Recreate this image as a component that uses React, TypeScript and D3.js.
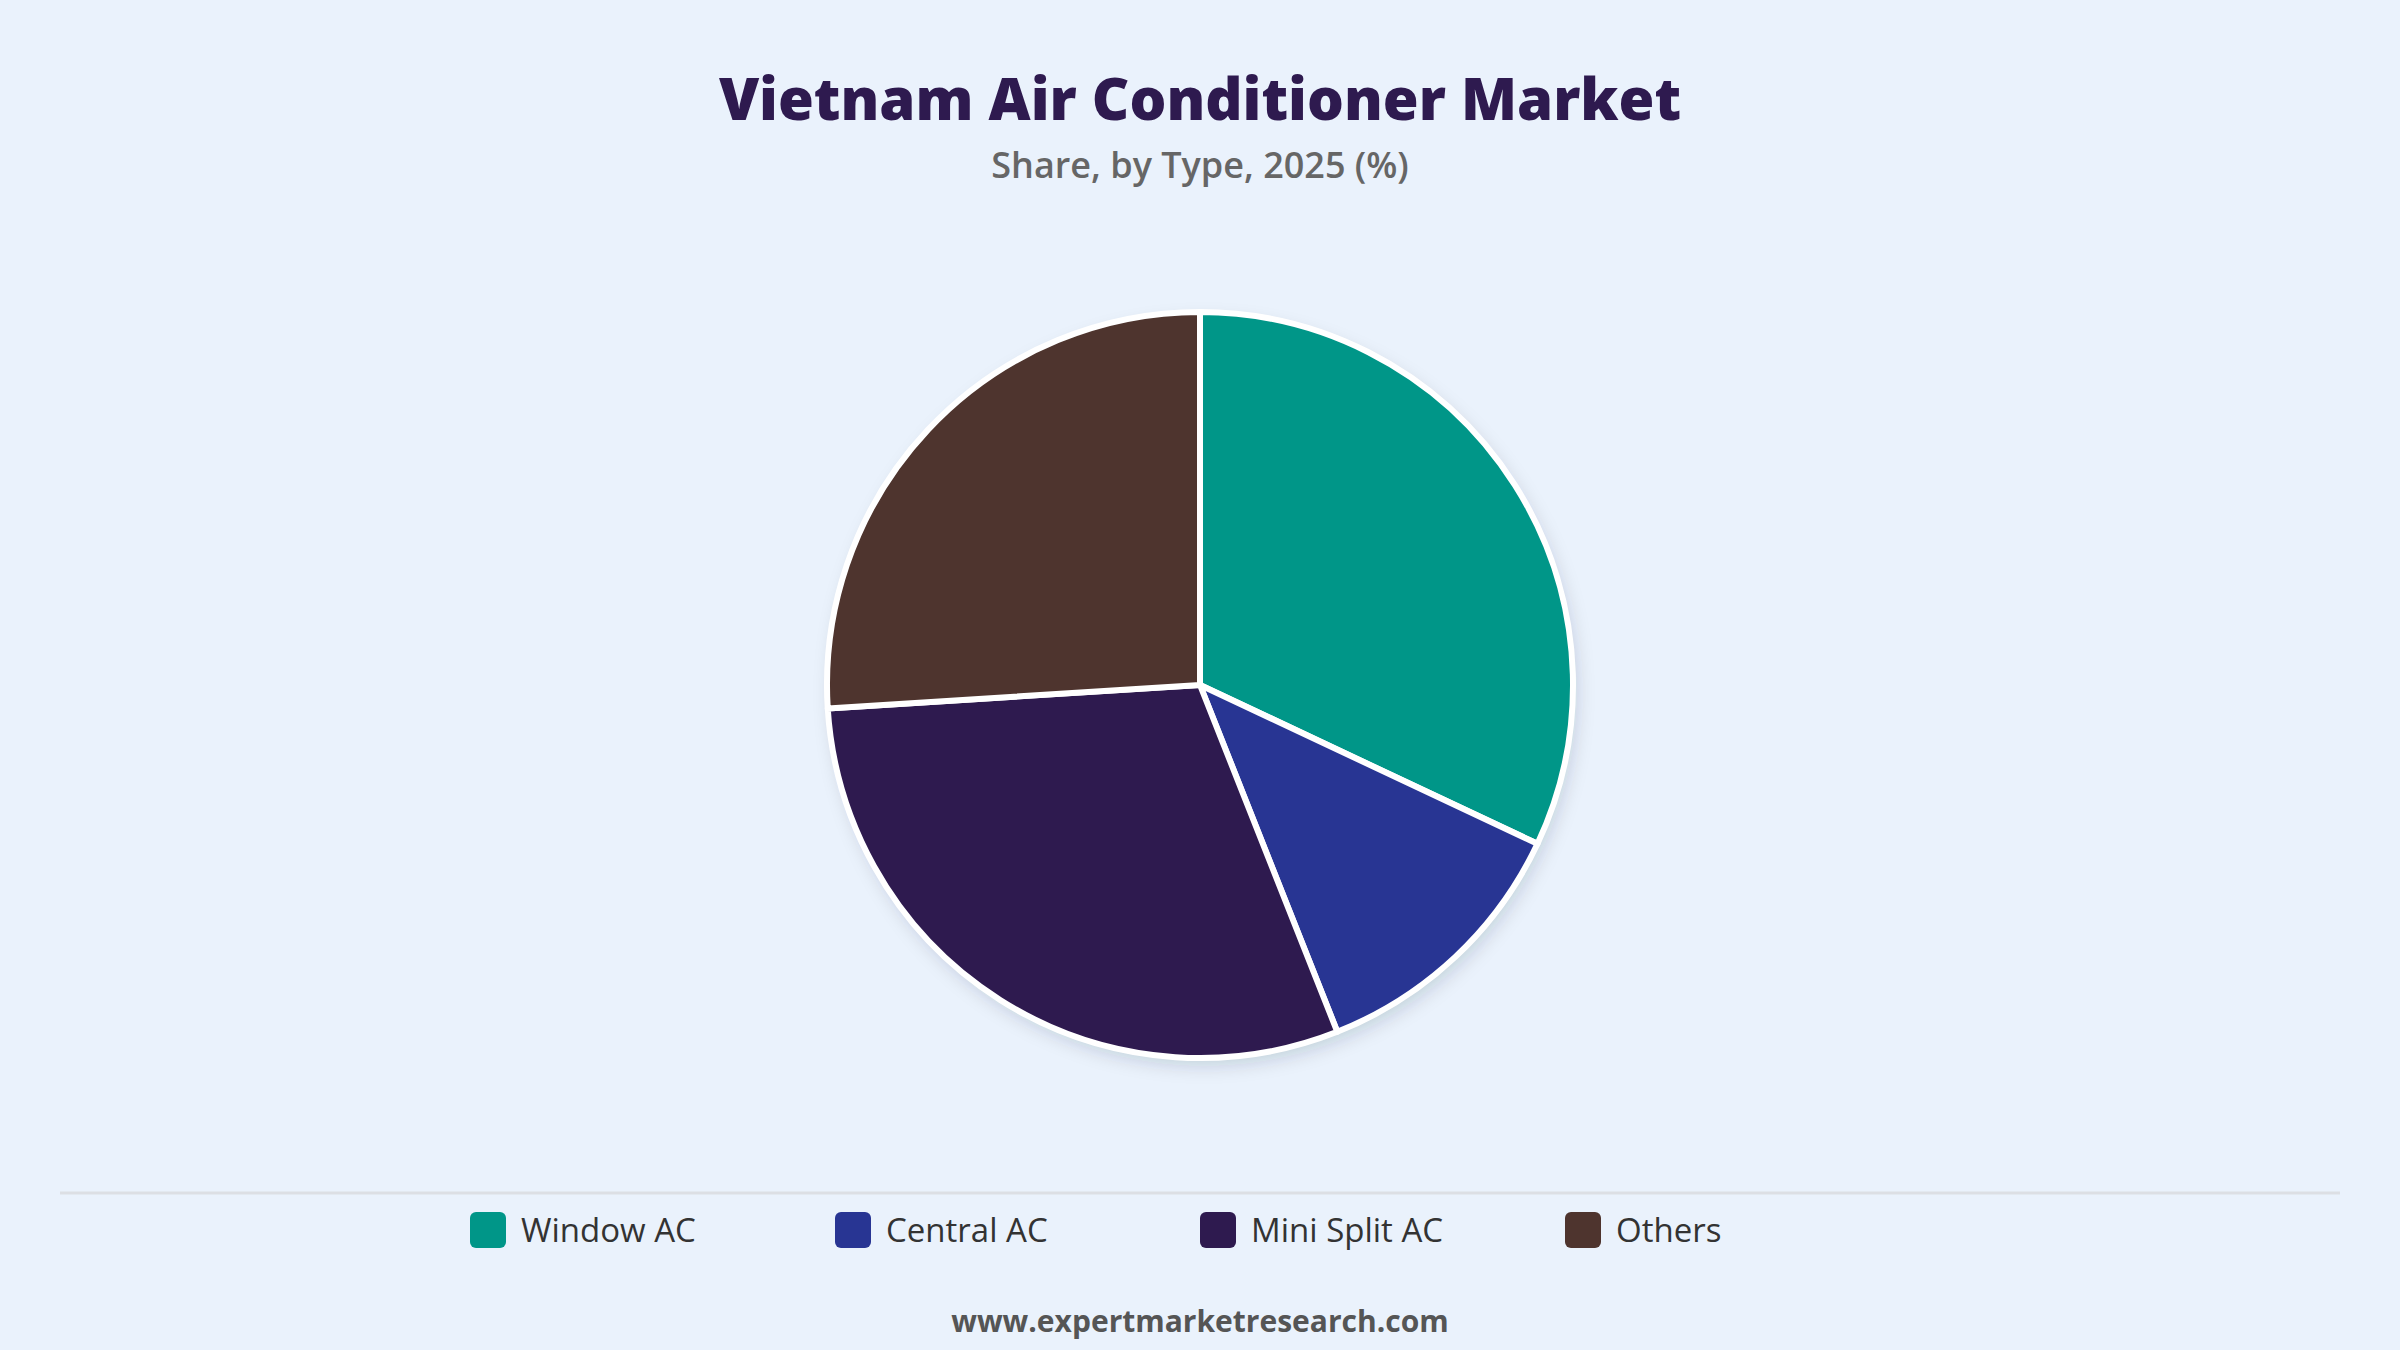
import { useMemo } from "react";
import * as d3 from "d3";

const categories = ["Window AC", "Central AC", "Mini Split AC", "Others"];
const shares = [32, 12, 30, 26];
const colors = ["#009688", "#283593", "#2e1a4f", "#4e342e"];

const W = 2400;
const H = 1350;
const FONT = "'Open Sans', 'Noto Sans', sans-serif";

interface Slice {
  name: string;
  value: number;
  color: string;
}

export default function App() {
  const data: Slice[] = categories.map((name, i) => ({
    name,
    value: shares[i],
    color: colors[i],
  }));

  const cx = W / 2;
  const cy = 685;
  const radius = 373;

  const arcs = useMemo(() => {
    const pie = d3
      .pie<Slice>()
      .value((d) => d.value)
      .sort(null);
    return pie(data);
  }, []);

  const arc = d3.arc<d3.PieArcDatum<Slice>>().innerRadius(0).outerRadius(radius);

  // legend: fixed-width items, centred
  const itemW = 365;
  const legendX = d3
    .scaleBand()
    .domain(categories)
    .range([W / 2 - (itemW * categories.length) / 2, W / 2 + (itemW * categories.length) / 2]);

  return (
    <svg
      width={W}
      height={H}
      style={{ position: "absolute", left: 0, top: 0, display: "block" }}
    >
      <defs>
        <filter id="pieShadow" x="-20%" y="-20%" width="140%" height="140%">
          <feDropShadow dx="4" dy="8" stdDeviation="9" floodColor="#1a2a40" floodOpacity="0.16" />
        </filter>
      </defs>
      <rect width={W} height={H} fill="#eaf2fc" />

      {/* Title */}
      <text
        x={W / 2}
        y={120}
        textAnchor="middle"
        fontFamily={FONT}
        fontWeight={800}
        fontSize={58}
        fill="#2e1a4f"
      >
        Vietnam Air Conditioner Market
      </text>
      <text
        x={W / 2}
        y={178}
        textAnchor="middle"
        fontFamily={FONT}
        fontWeight={600}
        fontSize={36}
        fill="#666666"
      >
        Share, by Type, 2025 (%)
      </text>

      {/* Pie */}
      <g transform={`translate(${cx},${cy})`}>
        <circle r={radius} fill="#ffffff" filter="url(#pieShadow)" />
        {arcs.map((a) => (
          <path
            key={a.data.name}
            d={arc(a) || ""}
            fill={a.data.color}
            stroke="#ffffff"
            strokeWidth={6}
            strokeLinejoin="round"
          />
        ))}
      </g>

      {/* Separator */}
      <line x1={60} x2={W - 60} y1={1193} y2={1193} stroke="#dcdfe4" strokeWidth={3} />

      {/* Legend */}
      {data.map((d) => {
        const x = legendX(d.name) || 0;
        return (
          <g key={d.name} transform={`translate(${x},1212)`}>
            <rect width={36} height={36} rx={6} fill={d.color} />
            <text
              x={51}
              y={30}
              fontFamily={FONT}
              fontSize={33}
              fill="#333333"
            >
              {d.name}
            </text>
          </g>
        );
      })}

      {/* Source */}
      <text
        x={W / 2}
        y={1332}
        textAnchor="middle"
        fontFamily={FONT}
        fontWeight={700}
        fontSize={30}
        fill="#555555"
      >
        www.expertmarketresearch.com
      </text>
    </svg>
  );
}
